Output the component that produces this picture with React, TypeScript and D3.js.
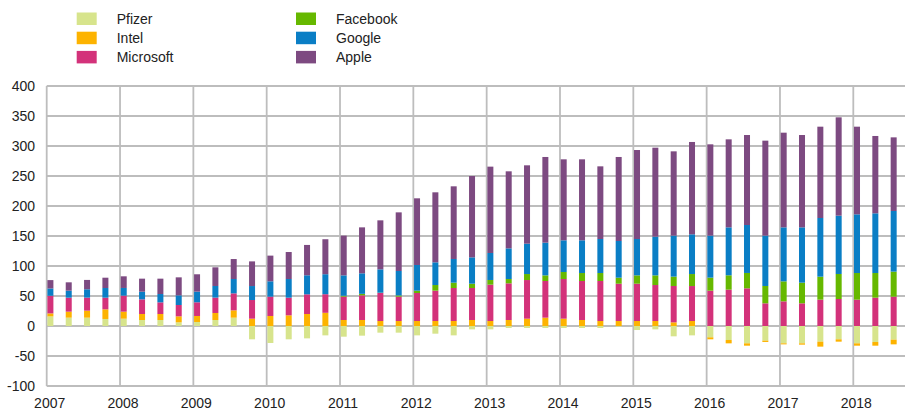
import React from "react";
import * as d3 from "d3";

// Quarter start dates (fractional years), 2007 Q1 .. 2018 Q3
const quarters: string[] = [
  "2007Q1","2007Q2","2007Q3","2007Q4","2008Q1","2008Q2","2008Q3","2008Q4",
  "2009Q1","2009Q2","2009Q3","2009Q4","2010Q1","2010Q2","2010Q3","2010Q4",
  "2011Q1","2011Q2","2011Q3","2011Q4","2012Q1","2012Q2","2012Q3","2012Q4",
  "2013Q1","2013Q2","2013Q3","2013Q4","2014Q1","2014Q2","2014Q3","2014Q4",
  "2015Q1","2015Q2","2015Q3","2015Q4","2016Q1","2016Q2","2016Q3","2016Q4",
  "2017Q1","2017Q2","2017Q3","2017Q4","2018Q1","2018Q2","2018Q3",
];

const pfizer: number[] = [
  16, 13.9, 13.9, 11.7, 12.2, 10, 10, 6.1,
  6.7, 10, 13.9, -22.2, -28.3, -22.2, -20.6, -15.6,
  -17.8, -16.1, -11.1, -11.1, -15.6, -12.8, -15.6, -5.6,
  -5.6, -3.3, -3.3, -3.3, -3.3, -3.3, -3.3, -1,
  -6.7, -5.6, -17.2, -15.6, -18.9, -23.3, -28.9, -24.4,
  -28.9, -28.9, -26.1, -22.2, -28.9, -26.7, -22.8,
];
const intel: number[] = [
  5, 10, 11.7, 16.1, 11.7, 10, 10, 10,
  10, 11.7, 12.2, 12.2, 16.7, 17.8, 20, 22,
  10, 10, 8.3, 8.3, 8.3, 8.3, 8.3, 10,
  8.3, 10, 12.2, 13.9, 12.2, 10, 8.3, 8.3,
  8.3, 8.3, 6.1, 8.3, -3.3, -5.6, -3.9, -2.2,
  -1.7, -2.2, -8.3, -3.9, -3.9, -6.1, -7.8,
];
const microsoft: number[] = [
  29.4, 23.3, 21.7, 19.4, 26.7, 24.4, 19.4, 18.9,
  22.8, 25.6, 28.3, 31.1, 32.2, 29.4, 32.8, 31,
  38.9, 41.1, 46.7, 40.6, 46.7, 50.6, 55, 53.3,
  60.6, 61.1, 64.4, 61.1, 66.1, 65, 66.7, 62.2,
  62.2, 60, 60.6, 58.3, 58.9, 60.6, 62.8, 37.8,
  41.1, 37.8, 43.9, 45, 43.9, 47.2, 48.9,
];
const facebook: number[] = [
  0, 0, 0, 0, 0, 0, 0, 0,
  0, 0, 0, 0, 0, 0, 0, 0,
  1.5, 2.5, 0.5, 2, 3.9, 9.4, 8.9, 7.2,
  7.8, 7.2, 10, 9.4, 11.7, 13.3, 13.3, 10,
  13.9, 16.1, 15.6, 20, 21.7, 23.9, 25.6, 28.9,
  33.3, 34.4, 38.3, 41.7, 44.4, 41.1, 41.7,
];
const google: number[] = [
  12.2, 11.7, 13.9, 16.1, 12.8, 12.8, 13.9, 16.1,
  17.8, 19.4, 23.9, 23.3, 25.6, 31.1, 31.7, 33.3,
  34, 34.2, 38.9, 40.8, 42.8, 37.8, 39.5, 43.9,
  45, 51.1, 50.6, 54.5, 52.8, 54.5, 56.7, 61.2,
  60.6, 64.5, 68.3, 66.2, 70, 79.9, 79.9, 83.9,
  90, 92.2, 97.8, 97.2, 97.8, 99.5, 101.1,
];
const apple: number[] = [
  13.9, 13.9, 15.6, 17.2, 19.4, 21.7, 25.6, 30,
  28.9, 31.1, 33.3, 41.1, 42.8, 45, 50.6, 58.3,
  66.2, 76.6, 81.7, 97.7, 111.1, 116.7, 121.1, 135.6,
  143.9, 128.4, 130.6, 142.8, 135, 135, 121.1, 140,
  148.3, 148.3, 140.5, 153.9, 152.2, 146.7, 150, 158.3,
  157.8, 153.9, 152.2, 163.9, 146.1, 128.9, 122.7,
];

const seriesNames: string[] = ["Pfizer", "Intel", "Microsoft", "Facebook", "Google", "Apple"];
const seriesColors: string[] = ["#d7e48c", "#fdb300", "#d3327a", "#66b800", "#0a7ec5", "#7d4a81"];
const yTicks: number[] = [-100, -50, 0, 50, 100, 150, 200, 250, 300, 350, 400];
const yearTicks: number[] = [2007, 2008, 2009, 2010, 2011, 2012, 2013, 2014, 2015, 2016, 2017, 2018];

const W = 905;
const H = 412;
const FONT = "'Liberation Sans', Arial, sans-serif";

export default function App() {
  const rows = quarters.map((q, i) => ({
    t: +q.slice(0, 4) + (+q.slice(5) - 1) / 4,
    Pfizer: pfizer[i],
    Intel: intel[i],
    Microsoft: microsoft[i],
    Facebook: facebook[i],
    Google: google[i],
    Apple: apple[i],
  }));

  const x = d3.scaleLinear().domain([2007, 2018.705]).range([46.7, 905]);
  const y = d3.scaleLinear().domain([-100, 400]).range([386, 86]);

  const stack = d3
    .stack<any>()
    .keys(seriesNames)
    .offset(d3.stackOffsetDiverging);
  const layers = stack(rows);

  const barW = 6;
  const gridColor = "#bdbdbd";

  const legendLeft = [
    { name: "Pfizer", i: 0 },
    { name: "Intel", i: 1 },
    { name: "Microsoft", i: 2 },
  ];
  const legendRight = [
    { name: "Facebook", i: 3 },
    { name: "Google", i: 4 },
    { name: "Apple", i: 5 },
  ];

  return (
    <svg
      width={W}
      height={H}
      style={{ position: "absolute", left: 0, top: 0, background: "#fff" }}
      fontFamily={FONT}
    >
      {/* horizontal gridlines */}
      {yTicks.map((v) => (
        <line
          key={"h" + v}
          x1={x(2007)}
          x2={W}
          y1={y(v)}
          y2={y(v)}
          stroke={gridColor}
          strokeWidth={1.8}
        />
      ))}
      {/* vertical gridlines */}
      {yearTicks.map((yr) => (
        <line
          key={"v" + yr}
          x1={x(yr)}
          x2={x(yr)}
          y1={y(400)}
          y2={y(-100)}
          stroke={gridColor}
          strokeWidth={1.8}
        />
      ))}
      {/* bars */}
      {layers.map((layer, li) => (
        <g key={layer.key} fill={seriesColors[li]}>
          {layer.map((d, i) => {
            const y0 = y(d[0]);
            const y1 = y(d[1]);
            const h = Math.abs(y0 - y1);
            if (h < 0.01) return null;
            return (
              <rect
                key={i}
                x={x(rows[i].t) + 0.7}
                width={barW}
                y={Math.min(y0, y1)}
                height={h}
              />
            );
          })}
        </g>
      ))}
      {/* y tick labels */}
      {yTicks.map((v) => (
        <text
          key={"yl" + v}
          x={35}
          y={y(v)}
          dy="0.35em"
          textAnchor="end"
          fontSize={14}
          fill="#222"
        >
          {v}
        </text>
      ))}
      {/* x tick labels */}
      {yearTicks.map((yr) => (
        <text
          key={"xl" + yr}
          x={x(yr) + 3}
          y={408}
          textAnchor="middle"
          fontSize={14}
          fill="#222"
        >
          {yr}
        </text>
      ))}
      {/* legend */}
      {legendLeft.map((l, k) => (
        <g key={l.name} transform={`translate(76.7, ${12.5 + k * 19.2})`}>
          <rect width={20} height={12.5} fill={seriesColors[l.i]} />
          <text x={40} y={6.3} dy="0.35em" fontSize={14} fill="#222">
            {l.name}
          </text>
        </g>
      ))}
      {legendRight.map((l, k) => (
        <g key={l.name} transform={`translate(296, ${12.5 + k * 19.2})`}>
          <rect width={20} height={12.5} fill={seriesColors[l.i]} />
          <text x={40} y={6.3} dy="0.35em" fontSize={14} fill="#222">
            {l.name}
          </text>
        </g>
      ))}
    </svg>
  );
}
